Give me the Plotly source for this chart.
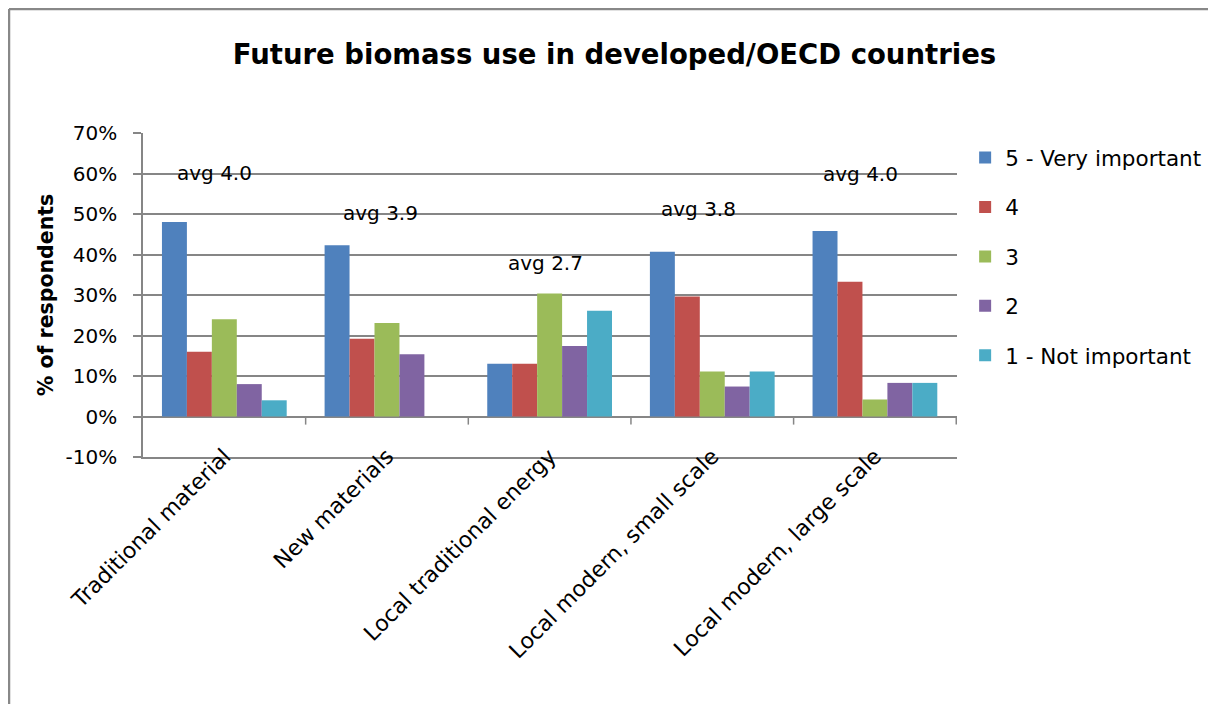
import plotly.graph_objects as go

categories = ["Traditional material", "New materials", "Local traditional energy",
              "Local modern, small scale", "Local modern, large scale"]
series_names = ["5 - Very important", "4", "3", "2", "1 - Not important"]
very_important = [48.0, 42.3, 13.0, 40.7, 45.8]
rating_4 = [16.0, 19.2, 13.0, 29.6, 33.3]
rating_3 = [24.0, 23.1, 30.4, 11.1, 4.2]
rating_2 = [8.0, 15.4, 17.4, 7.4, 8.3]
not_important = [4.0, 0.0, 26.1, 11.1, 8.3]
averages = ["avg 4.0", "avg 3.9", "avg 2.7", "avg 3.8", "avg 4.0"]
y_tick_values = [-10, 0, 10, 20, 30, 40, 50, 60, 70]
y_tick_labels = ["-10%", "0%", "10%", "20%", "30%", "40%", "50%", "60%", "70%"]

colors = ["#4F81BD", "#C0504D", "#9BBB59", "#8064A2", "#4BACC6"]
series_values = [very_important, rating_4, rating_3, rating_2, not_important]

FONT = "DejaVu Sans"
GRID = "#868686"

# plot area geometry (figure pixels)
L, T, PW, PH = 135, 125, 814, 324
W, H = 1216, 704

fig = go.Figure()
for i, (name, vals) in enumerate(zip(series_names, series_values)):
    fig.add_trace(go.Bar(
        x=categories, y=vals, name=name, legendgroup=name,
        marker=dict(color=colors[i], line=dict(width=0)),
        hoverinfo="skip",
    ))

# avg label placement (annotation offsets)
avg_label_y = [60.2, 50.2, 37.8, 51.2, 59.8]
avg_label_shift = [-10, -6, -4, -14, -14]
annotations = []
for cat, txt, yy, sh in zip(categories, averages, avg_label_y, avg_label_shift):
    annotations.append(dict(x=cat, y=yy, xref="x", yref="y", text=txt, showarrow=False,
                            xshift=sh, font=dict(family=FONT, size=20, color="black"),
                            xanchor="center", yanchor="middle"))

shapes = []
# x-axis tick marks at category boundaries on the zero line
for i in range(len(categories)):
    shapes.append(dict(type="line", xref="x", yref="y", x0=i + 0.5, x1=i + 0.5,
                       y0=0, y1=-2, line=dict(color=GRID, width=1.5)))
# outer chart border (top and left)
bx = (1.0 - L) / PW
by = (T + PH - 1.0) / PH
shapes.append(dict(type="line", xref="paper", yref="paper", x0=bx, x1=(W - L) / PW + 0.05,
                   y0=by, y1=by, line=dict(color="#888888", width=2.5)))
shapes.append(dict(type="line", xref="paper", yref="paper", x0=bx, x1=bx,
                   y0=by, y1=-1.0, line=dict(color="#888888", width=2.5)))

fig.update_layout(
    width=W, height=H,
    margin=dict(l=L, r=W - L - PW, t=T, b=H - T - PH),
    paper_bgcolor="white", plot_bgcolor="white",
    font=dict(family=FONT, size=20, color="black"),
    title=dict(text="<b>Future biomass use in developed/OECD countries</b>",
               x=606.5 / W, xref="container", xanchor="center",
               y=1 - 46 / H, yref="container", yanchor="middle",
               font=dict(family=FONT, size=27.5, color="black")),
    barmode="group", bargap=0.233, bargroupgap=0,
    showlegend=True,
    legend=dict(x=1.01, xanchor="left", y=1 - 4 / PH, yanchor="top",
                font=dict(family=FONT, size=21.5, color="black"),
                tracegroupgap=18.5, bgcolor="rgba(0,0,0,0)", itemclick=False),
    annotations=annotations,
    shapes=shapes,
)
fig.update_xaxes(type="category", showgrid=False, showline=True, linecolor=GRID, linewidth=1.5,
                 ticks="", tickangle=-45, tickfont=dict(family=FONT, size=22, color="black"),
                 ticklabelstandoff=-24, mirror=False)
fig.update_yaxes(range=[-10, 70], tickmode="array", tickvals=y_tick_values, ticktext=y_tick_labels,
                 showgrid=True, gridcolor=GRID,
                 gridwidth=1.5, zeroline=True, zerolinecolor=GRID, zerolinewidth=1.5,
                 showline=True, linecolor=GRID, linewidth=1.5, ticks="outside", ticklen=8,
                 tickcolor=GRID, tickwidth=1.5, ticklabelstandoff=12,
                 tickfont=dict(family=FONT, size=20, color="black"),
                 title=dict(text="<b>% of respondents</b>", standoff=6,
                            font=dict(family=FONT, size=20.5, color="black")))

fig.write_html("out.html")
